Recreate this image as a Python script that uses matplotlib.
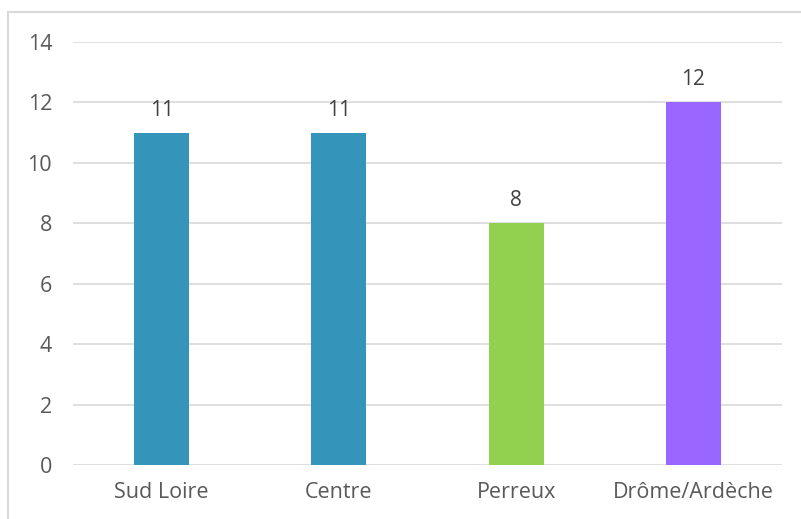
import matplotlib.pyplot as plt
from matplotlib.patches import Rectangle

# Data
categories = ['Sud Loire', 'Centre', 'Perreux', 'Drôme/Ardèche']
values = [11, 11, 8, 12]
colors = ['#3494BA', '#3494BA', '#92D050', '#9966FF']
yticks = [0, 2, 4, 6, 8, 10, 12, 14]

plt.rcParams['font.family'] = ['Open Sans', 'DejaVu Sans']
text_color = '#595959'

W, H = 801, 519
fig = plt.figure(figsize=(W / 100, H / 100), dpi=100)

# plot area in pixels: x 73..782, y 42..465
left, right, top, bottom = 73, 782, 42, 465
ax = fig.add_axes([left / W, 1 - bottom / H, (right - left) / W, (bottom - top) / H])

x = range(len(categories))
bars = ax.bar(x, values, width=0.31, color=colors, zorder=3)

for b, v in zip(bars, values):
    ax.text(b.get_x() + b.get_width() / 2, v + 0.4, str(v),
            ha='center', va='bottom', fontsize=15, color='#404040')

ax.set_xlim(-0.5, len(categories) - 0.5)
ax.set_ylim(0, 14)
ax.set_yticks(yticks)
ax.set_xticks(list(x))
ax.set_xticklabels(categories)
ax.tick_params(axis='both', length=0, labelsize=15.5, labelcolor=text_color)
ax.tick_params(axis='y', pad=15)
ax.tick_params(axis='x', pad=12)

ax.grid(axis='y', color='#D9D9D9', linewidth=1.2, zorder=0)
for s in ax.spines.values():
    s.set_visible(False)

# chart border
fig.patches.append(Rectangle((8 / W, -0.1), 1.1, 1 - 12 / H + 0.1,
                             transform=fig.transFigure, fill=False,
                             edgecolor='#D9D9D9', linewidth=1.5))

fig.savefig('out.png', dpi=100)
